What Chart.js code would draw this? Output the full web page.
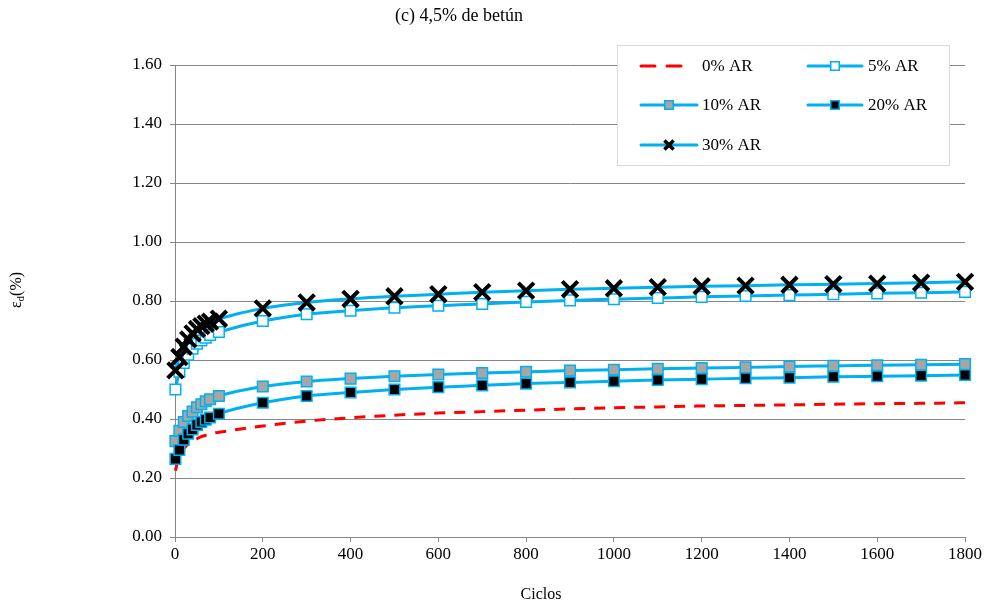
<!DOCTYPE html>
<html>
<head>
<meta charset="utf-8">
<script src="https://cdn.jsdelivr.net/npm/chart.js@4.4.0/dist/chart.umd.min.js"></script>
<style>
html,body{margin:0;padding:0;background:#fff;}
#wrap{width:984px;height:606px;position:relative;}
</style>
</head>
<body>
<div id="wrap"><canvas id="c" width="984" height="606"></canvas></div>
<script>
const titleText = "(c) 4,5% de betún";
const xTitle = "Ciclos";
const cycles = [1,10,20,30,40,50,60,70,80,100,200,300,400,500,600,700,800,900,1000,1100,1200,1300,1400,1500,1600,1700,1800];
const ar0  = [0.225,0.280,0.300,0.315,0.325,0.333,0.340,0.345,0.350,0.355,0.376,0.393,0.404,0.413,0.420,0.425,0.430,0.434,0.438,0.441,0.444,0.446,0.448,0.450,0.452,0.453,0.455];
const ar5  = [0.500,0.560,0.590,0.618,0.638,0.655,0.666,0.676,0.685,0.695,0.732,0.755,0.767,0.777,0.784,0.790,0.797,0.802,0.806,0.810,0.814,0.817,0.820,0.823,0.826,0.828,0.831];
const ar10 = [0.325,0.360,0.390,0.410,0.425,0.440,0.450,0.460,0.467,0.478,0.510,0.527,0.537,0.545,0.551,0.556,0.560,0.564,0.567,0.570,0.573,0.575,0.578,0.580,0.582,0.584,0.586];
const ar20 = [0.265,0.295,0.330,0.350,0.365,0.380,0.390,0.398,0.405,0.418,0.455,0.478,0.490,0.500,0.508,0.514,0.520,0.524,0.528,0.532,0.535,0.538,0.540,0.543,0.545,0.547,0.549];
const ar30 = [0.565,0.610,0.645,0.670,0.690,0.705,0.715,0.723,0.730,0.740,0.775,0.795,0.807,0.816,0.823,0.830,0.835,0.840,0.843,0.847,0.850,0.852,0.855,0.857,0.859,0.862,0.865];
const seriesNames = ["0% AR","5% AR","10% AR","20% AR","30% AR"];
const yTicks = [0,0.2,0.4,0.6,0.8,1.0,1.2,1.4,1.6];

const BLUE = "#00B0F0";
const FONT = "'Liberation Serif','Times New Roman',serif";
const pts = arr => cycles.map((c,i)=>({x:c,y:arr[i]}));

const common = {borderColor:BLUE, borderWidth:3, cubicInterpolationMode:'monotone', fill:false, clip:false};
const datasets = [
  {label:seriesNames[0], data:pts(ar0), borderColor:"#FF0000", borderWidth:3, borderDash:[11,9], pointRadius:0, cubicInterpolationMode:'monotone', clip:false, order:5},
  Object.assign({label:seriesNames[1], data:pts(ar5), pointStyle:'rect', pointRadius:7.5, pointBackgroundColor:"#FFFFFF", pointBorderColor:BLUE, pointBorderWidth:1.5, order:4}, common),
  Object.assign({label:seriesNames[2], data:pts(ar10), pointStyle:'rect', pointRadius:7.5, pointBackgroundColor:"#A6A6A6", pointBorderColor:BLUE, pointBorderWidth:1.5, order:3}, common),
  Object.assign({label:seriesNames[3], data:pts(ar20), pointStyle:'rect', pointRadius:7.5, pointBackgroundColor:"#000000", pointBorderColor:BLUE, pointBorderWidth:1.5, order:2}, common),
  Object.assign({label:seriesNames[4], data:pts(ar30), pointStyle:'crossRot', pointRadius:11, pointBackgroundColor:"#000000", pointBorderColor:"#000000", pointBorderWidth:4, order:1}, common)
];

const textPlugin = {
  id:'texts',
  afterDraw(chart){
    const ctx = chart.ctx;
    ctx.save();
    ctx.fillStyle = "#000";
    ctx.textBaseline = "middle";
    ctx.textAlign = "center";
    ctx.font = "18px " + FONT;
    ctx.fillText(titleText, 459, 16);
    ctx.font = "16px " + FONT;
    ctx.fillText(xTitle, 541, 595);
    // y title with subscript
    ctx.translate(17, 290);
    ctx.rotate(-Math.PI/2);
    ctx.textAlign = "left";
    ctx.font = "16px " + FONT;
    const w1 = ctx.measureText("ε").width;
    ctx.font = "11px " + FONT;
    const w2 = ctx.measureText("d").width;
    ctx.font = "16px " + FONT;
    const w3 = ctx.measureText("(%)").width;
    let x0 = -(w1+w2+w3)/2;
    ctx.fillText("ε", x0, 0);
    ctx.font = "11px " + FONT;
    ctx.fillText("d", x0+w1, 4);
    ctx.font = "16px " + FONT;
    ctx.fillText("(%)", x0+w1+w2, 0);
    ctx.restore();

    // legend
    ctx.save();
    ctx.fillStyle = "#FFFFFF";
    ctx.fillRect(617.5, 45.5, 332, 120);
    ctx.strokeStyle = "#D9D9D9";
    ctx.lineWidth = 1;
    ctx.strokeRect(617.5, 45.5, 332, 120);
    const items = [
      {ds:0, x1:641, x2:684, mx:null, tx:702, y:66},
      {ds:1, x1:808, x2:862, mx:835, tx:868, y:66},
      {ds:2, x1:641, x2:697, mx:669, tx:702, y:105},
      {ds:3, x1:808, x2:862, mx:835, tx:868, y:105},
      {ds:4, x1:641, x2:697, mx:669, tx:702, y:145}
    ];
    items.forEach(it=>{
      const d = datasets[it.ds];
      ctx.save();
      ctx.strokeStyle = d.borderColor;
      ctx.lineWidth = 3;
      ctx.lineCap = "round";
      if (d.borderDash) ctx.setLineDash([14,12]);
      ctx.beginPath();
      ctx.moveTo(it.x1, it.y);
      ctx.lineTo(it.x2, it.y);
      ctx.stroke();
      ctx.restore();
      if (it.mx !== null) {
        ctx.save();
        ctx.fillStyle = d.pointBackgroundColor;
        ctx.strokeStyle = d.pointBorderColor;
        const isX = d.pointStyle==='crossRot';
        ctx.lineWidth = isX ? 3.5 : 1.5;
        Chart.helpers.drawPoint(ctx, {pointStyle:d.pointStyle, radius:isX?6.5:6, rotation:0, borderWidth:ctx.lineWidth}, it.mx, it.y);
        ctx.restore();
      }
      ctx.fillStyle = "#000";
      ctx.font = "17px " + FONT;
      ctx.textAlign = "left";
      ctx.textBaseline = "middle";
      ctx.fillText(d.label, it.tx, it.y+1);
    });
    ctx.restore();
  }
};

new Chart(document.getElementById('c'), {
  type:'line',
  data:{datasets},
  options:{
    responsive:false,
    animation:false,
    events:[],
    layout:{padding:{top:65,right:19,left:0,bottom:0}},
    plugins:{legend:{display:false}, title:{display:false}, tooltip:{enabled:false}},
    scales:{
      x:{
        type:'linear', min:0, max:1800,
        afterFit(s){ s.height = 69; },
        ticks:{stepSize:200, color:"#000", font:{family:FONT, size:17}, padding:2, maxRotation:0, callback:v=>String(v)},
        grid:{drawOnChartArea:false, color:"#868686", tickLength:5, lineWidth:1},
        border:{color:"#868686", width:1}
      },
      y:{
        min:0, max:1.6,
        afterFit(s){ s.width = 175; },
        afterBuildTicks(s){ s.ticks = yTicks.map(v=>({value:v})); },
        ticks:{color:"#000", font:{family:FONT, size:17}, padding:8, callback:v=>Number(v).toFixed(2)},
        grid:{color:"#868686", tickLength:5, lineWidth:1},
        border:{color:"#868686", width:1}
      }
    }
  },
  plugins:[textPlugin]
});
</script>
</body>
</html>
